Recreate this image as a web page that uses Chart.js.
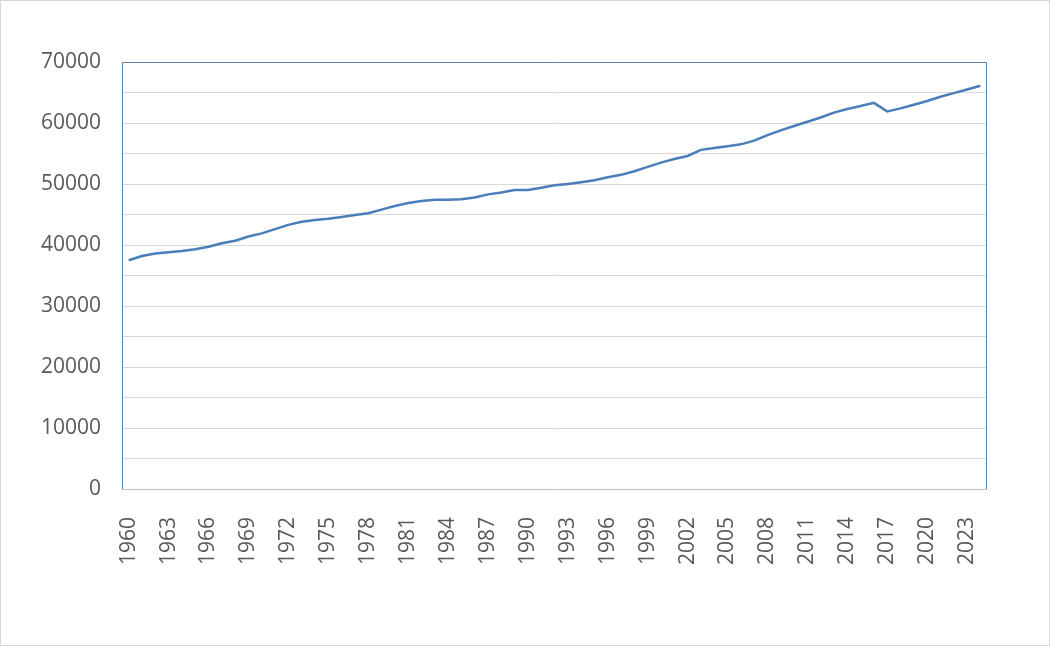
<!DOCTYPE html>
<html>
<head>
<meta charset="utf-8">
<script src="https://cdn.jsdelivr.net/npm/chart.js@4"></script>
<style>
    html, body { margin: 0; padding: 0; background: #fff; }
    #wrap { width: 1050px; height: 646px; box-sizing: border-box; border: 1px solid #d9d9d9; }
    #wrap canvas { display: block; }
</style>
</head>
<body>
<div id="wrap"><canvas id="myChart" width="1048" height="644"></canvas></div>
<script>
let years = [];
for (let y = 1960; y <= 2024; y++) years.push(String(y));

let values = [
    37500, 38200, 38600, 38800, 39000, 39300, 39700, 40300, 40700, 41400,
    41900, 42600, 43300, 43800, 44100, 44300, 44600, 44900, 45200, 45800,
    46400, 46900, 47200, 47400, 47400, 47500, 47800, 48300, 48600, 49000,
    49000, 49400, 49800, 50000, 50300, 50600, 51100, 51500, 52100, 52800,
    53500, 54100, 54600, 55600, 55900, 56200, 56500, 57100, 58000, 58800,
    59500, 60200, 60900, 61700, 62300, 62800, 63300, 61900, 62400, 63000,
    63600, 64300, 64900, 65500, 66100
];

let yTicks = [0, 10000, 20000, 30000, 40000, 50000, 60000, 70000];

const plotBorder = {
    id: 'plotBorder',
    afterDraw(chart) {
        const { ctx, chartArea: a } = chart;
        ctx.save();
        ctx.strokeStyle = '#5a7ea6';
        ctx.lineWidth = 1;
        ctx.beginPath();
        ctx.moveTo(a.left + 0.5, a.bottom);
        ctx.lineTo(a.left + 0.5, a.top + 0.5);
        ctx.lineTo(a.right - 0.5, a.top + 0.5);
        ctx.lineTo(a.right - 0.5, a.bottom);
        ctx.stroke();
        ctx.strokeStyle = '#bfbfbf';
        ctx.beginPath();
        ctx.moveTo(a.left, a.bottom + 0.5);
        ctx.lineTo(a.right, a.bottom + 0.5);
        ctx.stroke();
        ctx.restore();
    }
};

const ctx = document.getElementById('myChart').getContext('2d');

new Chart(ctx, {
    type: 'line',
    data: {
        labels: years,
        datasets: [{
            data: values,
            borderColor: '#4a7ebb',
            borderWidth: 2.5,
            pointRadius: 0,
            tension: 0,
            fill: false,
        }]
    },
    options: {
        responsive: false,
        animation: false,
        layout: {
            padding: { left: 0, top: 61, right: 62, bottom: 0 }
        },
        plugins: {
            legend: { display: false },
            tooltip: { enabled: false }
        },
        scales: {
            x: {
                offset: true,
                grid: { display: false, drawTicks: false },
                border: { display: false },
                ticks: {
                    autoSkip: false,
                    maxRotation: 90,
                    minRotation: 90,
                    padding: 28,
                    color: '#595959',
                    font: { family: 'Open Sans', size: 21 },
                    callback: function (value, index) {
                        return index % 3 === 0 ? years[index] : '';
                    }
                },
                afterFit: function (scale) { scale.height = 156; }
            },
            y: {
                min: 0,
                max: 70000,
                grid: { color: '#d9d9d9', drawTicks: false },
                border: { display: false },
                ticks: {
                    stepSize: 5000,
                    padding: 21,
                    color: '#595959',
                    font: { family: 'Open Sans', size: 21 },
                    callback: function (value) {
                        return yTicks.includes(value) ? String(value) : '';
                    }
                },
                afterFit: function (scale) { scale.width = 121; }
            }
        }
    },
    plugins: [plotBorder]
});
</script>
</body>
</html>
